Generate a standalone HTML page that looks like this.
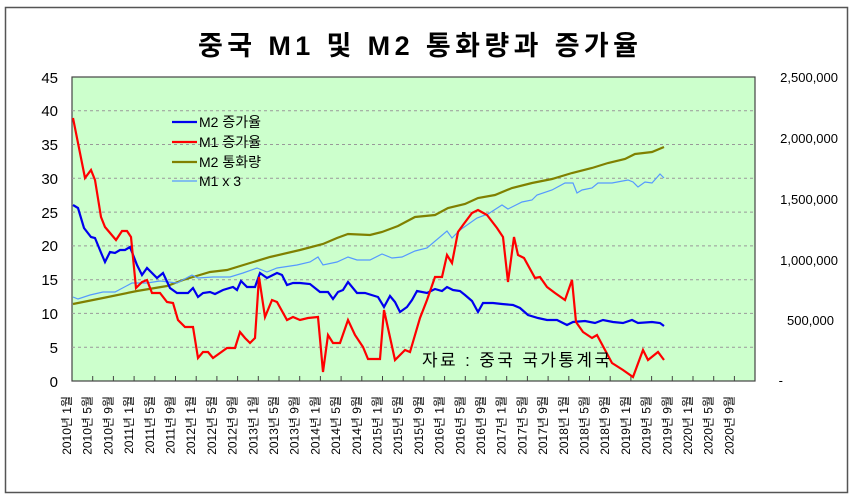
<!DOCTYPE html>
<html><head><meta charset="utf-8"><style>
html,body{margin:0;padding:0;background:#fff;}
svg{display:block;font-family:"Liberation Sans","Noto Sans CJK KR",sans-serif;}
</style></head><body>
<svg width="854" height="498" viewBox="0 0 854 498" xmlns="http://www.w3.org/2000/svg">
<rect x="5.5" y="7.5" width="842" height="485" fill="#fff" stroke="#555" stroke-width="1.5"/>
<text x="198" y="55" font-size="27" font-weight="bold" fill="#000" textLength="440" lengthAdjust="spacing">중국 M1 및 M2 통화량과 증가율</text>
<rect x="72" y="77" width="683" height="304" fill="#ccffcc" stroke="#444" stroke-width="1.2"/>
<g stroke="#999" stroke-dasharray="3,3" stroke-width="1">
<line x1="72" x2="755" y1="110.8" y2="110.8"/><line x1="72" x2="755" y1="144.5" y2="144.5"/>
<line x1="72" x2="755" y1="178.3" y2="178.3"/><line x1="72" x2="755" y1="212.1" y2="212.1"/>
<line x1="72" x2="755" y1="245.9" y2="245.9"/><line x1="72" x2="755" y1="279.7" y2="279.7"/>
<line x1="72" x2="755" y1="313.4" y2="313.4"/><line x1="72" x2="755" y1="347.2" y2="347.2"/>
</g>
<g font-size="15" fill="#000" text-anchor="end">
<text x="58" y="83">45</text><text x="58" y="116">40</text><text x="58" y="150">35</text>
<text x="58" y="184">30</text><text x="58" y="218">25</text><text x="58" y="251">20</text>
<text x="58" y="285">15</text><text x="58" y="319">10</text><text x="58" y="353">5</text><text x="58" y="387">0</text>
</g>
<g font-size="13" fill="#000" text-anchor="end">
<text x="838" y="82">2,500,000</text><text x="838" y="143">2,000,000</text><text x="838" y="204">1,500,000</text>
<text x="838" y="265">1,000,000</text><text x="834" y="325">500,000</text><text x="783" y="385">-</text>
</g>
<g id="ticks" stroke="#444" stroke-width="1"></g>
<g id="xl" font-size="12" fill="#000"></g>
<polyline fill="none" stroke="#808000" stroke-width="2.2" points="73,304 103,298 137,291 167,286 183,280 193,277 210,272 227,270 250,263 270,257 300,250 323,244 337,238 348,234 370,235 382,232 398,226 415,217 435,215 448,208 465,204 478,198 495,195 512,188 532,183 552,179 572,173 592,168 608,163 625,159 635,154 652,152 664,147"/>
<polyline fill="none" stroke="#5599ff" stroke-width="1.2" points="73,297 78,299 90,295 103,292 115,292 132,283 147,283 160,281 177,283 192,275 198,278 213,277 230,277 243,273 257,268 267,272 277,268 297,265 310,262 318,257 323,265 337,262 348,257 357,260 370,260 382,254 392,258 402,257 415,251 427,248 447,231 452,238 460,230 477,218 488,214 502,205 508,209 522,202 532,200 537,195 552,190 565,183 573,183 577,193 582,190 592,188 598,183 612,183 628,180 633,182 638,187 645,182 652,183 660,174 664,178"/>
<polyline fill="none" stroke="#0000ee" stroke-width="2.2" points="73,205 78,208 84,228 91,237 95,238 102,255 105,262 110,252 115,253 120,250 125,250 130,247 137,265 142,275 147,268 157,278 163,273 170,288 177,293 183,293 188,293 193,288 198,297 203,293 210,292 215,294 223,290 233,287 237,290 241,281 247,287 255,287 260,273 267,278 277,273 282,275 287,285 293,283 300,283 310,284 320,292 328,292 333,299 338,292 343,290 348,282 357,293 365,293 378,297 384,307 390,296 395,302 400,312 407,307 412,300 417,291 427,293 435,289 442,291 447,287 453,290 460,291 465,295 472,301 478,312 483,303 493,303 502,304 513,305 520,308 528,315 538,318 547,320 557,320 567,325 573,322 585,321 595,323 603,320 613,322 623,323 632,320 638,323 652,322 660,323 664,326"/>
<polyline fill="none" stroke="#ff0000" stroke-width="2.2" points="73,118 85,178 91,170 95,180 101,217 105,227 116,240 122,231 127,231 131,237 136,288 142,282 147,280 152,293 160,293 167,302 173,303 178,320 185,327 193,327 198,358 203,352 208,352 213,358 220,353 227,348 235,348 240,332 245,338 250,343 255,338 259,277 265,317 272,300 277,302 287,320 293,317 300,320 308,318 318,317 323,372 328,335 333,343 340,343 348,320 355,335 363,347 368,359 380,359 384,310 395,360 405,350 410,352 420,318 427,300 435,277 442,277 447,255 452,263 458,232 463,225 472,213 478,210 487,215 497,228 503,237 508,282 514,237 518,255 524,258 535,278 540,277 547,287 555,293 565,300 572,280 576,322 583,332 592,338 597,335 612,363 623,370 633,377 643,350 648,360 658,352 664,360"/>
<g font-size="14" fill="#000">
<line x1="172" x2="197" y1="122" y2="122" stroke="#0000ee" stroke-width="2.2"/><text x="199" y="127">M2 증가율</text>
<line x1="172" x2="197" y1="142" y2="142" stroke="#ff0000" stroke-width="2.2"/><text x="199" y="147">M1 증가율</text>
<line x1="172" x2="197" y1="162" y2="162" stroke="#808000" stroke-width="2.2"/><text x="199" y="167">M2 통화량</text>
<line x1="172" x2="197" y1="181" y2="181" stroke="#5599ff" stroke-width="1.2"/><text x="199" y="186">M1 x 3</text>
<text x="422" y="366" font-size="17" textLength="188" lengthAdjust="spacing">자료 : 중국 국가통계국</text>
</g>
<script>
var t=document.getElementById('ticks'),xl=document.getElementById('xl'),ns="http://www.w3.org/2000/svg";
for(var k=1;k<33;k++){var x=72+20.7*k;var l=document.createElementNS(ns,'line');l.setAttribute('x1',x);l.setAttribute('x2',x);l.setAttribute('y1',376);l.setAttribute('y2',381);t.appendChild(l);}
var ms=[1,5,9];
for(var k=0;k<33;k++){var x=71+20.7*k;var yr=2010+Math.floor(k/3);var m=ms[k%3];
var e=document.createElementNS(ns,'text');e.setAttribute('transform','translate('+x+',396) rotate(-90)');e.setAttribute('text-anchor','end');e.textContent=yr+'년 '+m+'월';xl.appendChild(e);}
</script>
</svg>
</body></html>
